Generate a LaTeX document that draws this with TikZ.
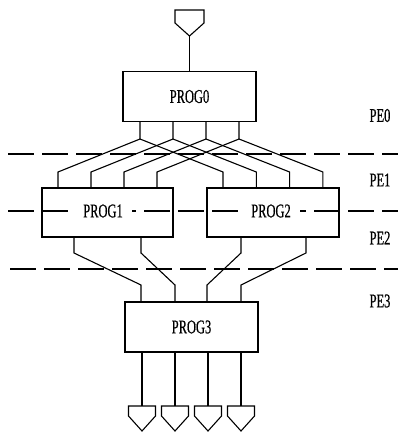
\documentclass[tikz,border=0pt]{standalone}
\usepackage{fontspec}
\usetikzlibrary{calc}
\newfontfamily\labfont[FakeStretch=0.64,FakeBold=0.6]{Liberation Serif}
\begin{document}
\begin{tikzpicture}[x=1pt,y=-1pt,line width=1.1pt,
  prog/.style={draw,minimum width=133pt,minimum height=50pt,inner sep=0pt},
  lbl/.style={font=\labfont\fontsize{19.5}{19.5}\selectfont,inner sep=0pt},
  dlbl/.style={lbl,fill=white,inner xsep=9pt,inner ysep=2pt},
  sep/.style={dash pattern=on 26pt off 8pt},
  wire/.style={line join=miter}]
\useasboundingbox (0,0) rectangle (398,432);
% dashed separators
\draw[sep] (8,154) -- (398,154);
\draw[sep] (8,211) -- (398,211);
\draw[sep] (10,269) -- (398,269);
% boxes
\node[prog] (p0) at (189.5,96.5) {};
\node[prog,minimum width=131pt,minimum height=49pt] (p1) at (107.5,212.5) {};
\node[prog,minimum width=132pt,minimum height=49pt] (p2) at (273,212.5) {};
\node[prog,minimum width=133pt,minimum height=50pt] (p3) at (191.5,327) {};
% box texts
\node[lbl] (t0) at (p0) {PROG0};
\node[dlbl] (t1) at (103,211) {PROG1};
\node[dlbl] (t2) at (271,211) {PROG2};
\node[lbl] (t3) at (p3) {PROG3};
% layer labels
\node[lbl] (pe0) at (380,115.5) {PE0};
\node[lbl] (pe1) at (380,180) {PE1};
\node[lbl] (pe2) at (380,238) {PE2};
\node[lbl] (pe3) at (380,301) {PE3};
% top input pentagon
\draw[line join=miter] (175,10) -- (204,10) -- (204,23) -- (189.5,36) -- (175,23) -- cycle;
\coordinate (tin) at (189.5,36);
\draw (tin) -- (p0.north);
% PROG0 -> PROG1/PROG2
\foreach \i in {0,1,2,3}{
  \pgfmathsetmacro\xo{140+33*\i}
  \pgfmathsetmacro\xa{58+33*\i}
  \pgfmathsetmacro\xb{223+33.3*\i}
  \coordinate (o\i) at (\xo,121);
  \coordinate (a\i) at (\xa,188);
  \coordinate (b\i) at (\xb,188);
  \draw[wire] (o\i) -- (\xo,139) -- (\xa,172) -- (a\i);
  \draw[wire] (\xo,139) -- (\xb,172) -- (b\i);
}
% PROG1/PROG2 -> PROG3
\coordinate (q1) at (74,237);  \coordinate (r1) at (141,302);
\coordinate (q2) at (141,237); \coordinate (r2) at (175,302);
\coordinate (q3) at (241,237); \coordinate (r3) at (207,302);
\coordinate (q4) at (306,237); \coordinate (r4) at (241,302);
\foreach \k in {1,2,3,4}{
  \draw[wire] (q\k) -- ++(0,16) -- ($(r\k)+(0,-17)$) -- (r\k);
}
% outputs
\foreach \i in {0,1,2,3}{
  \pgfmathsetmacro\xc{142+33*\i}
  \coordinate (s\i) at (\xc,352);
  \coordinate (e\i) at (\xc,406);
  \draw (s\i) -- (e\i);
  \draw[line join=miter] (\xc-13.5,406) -- (\xc+13.5,406) -- (\xc+13.5,416) -- (\xc,431) -- (\xc-13.5,416) -- cycle;
}
\end{tikzpicture}
\end{document}
